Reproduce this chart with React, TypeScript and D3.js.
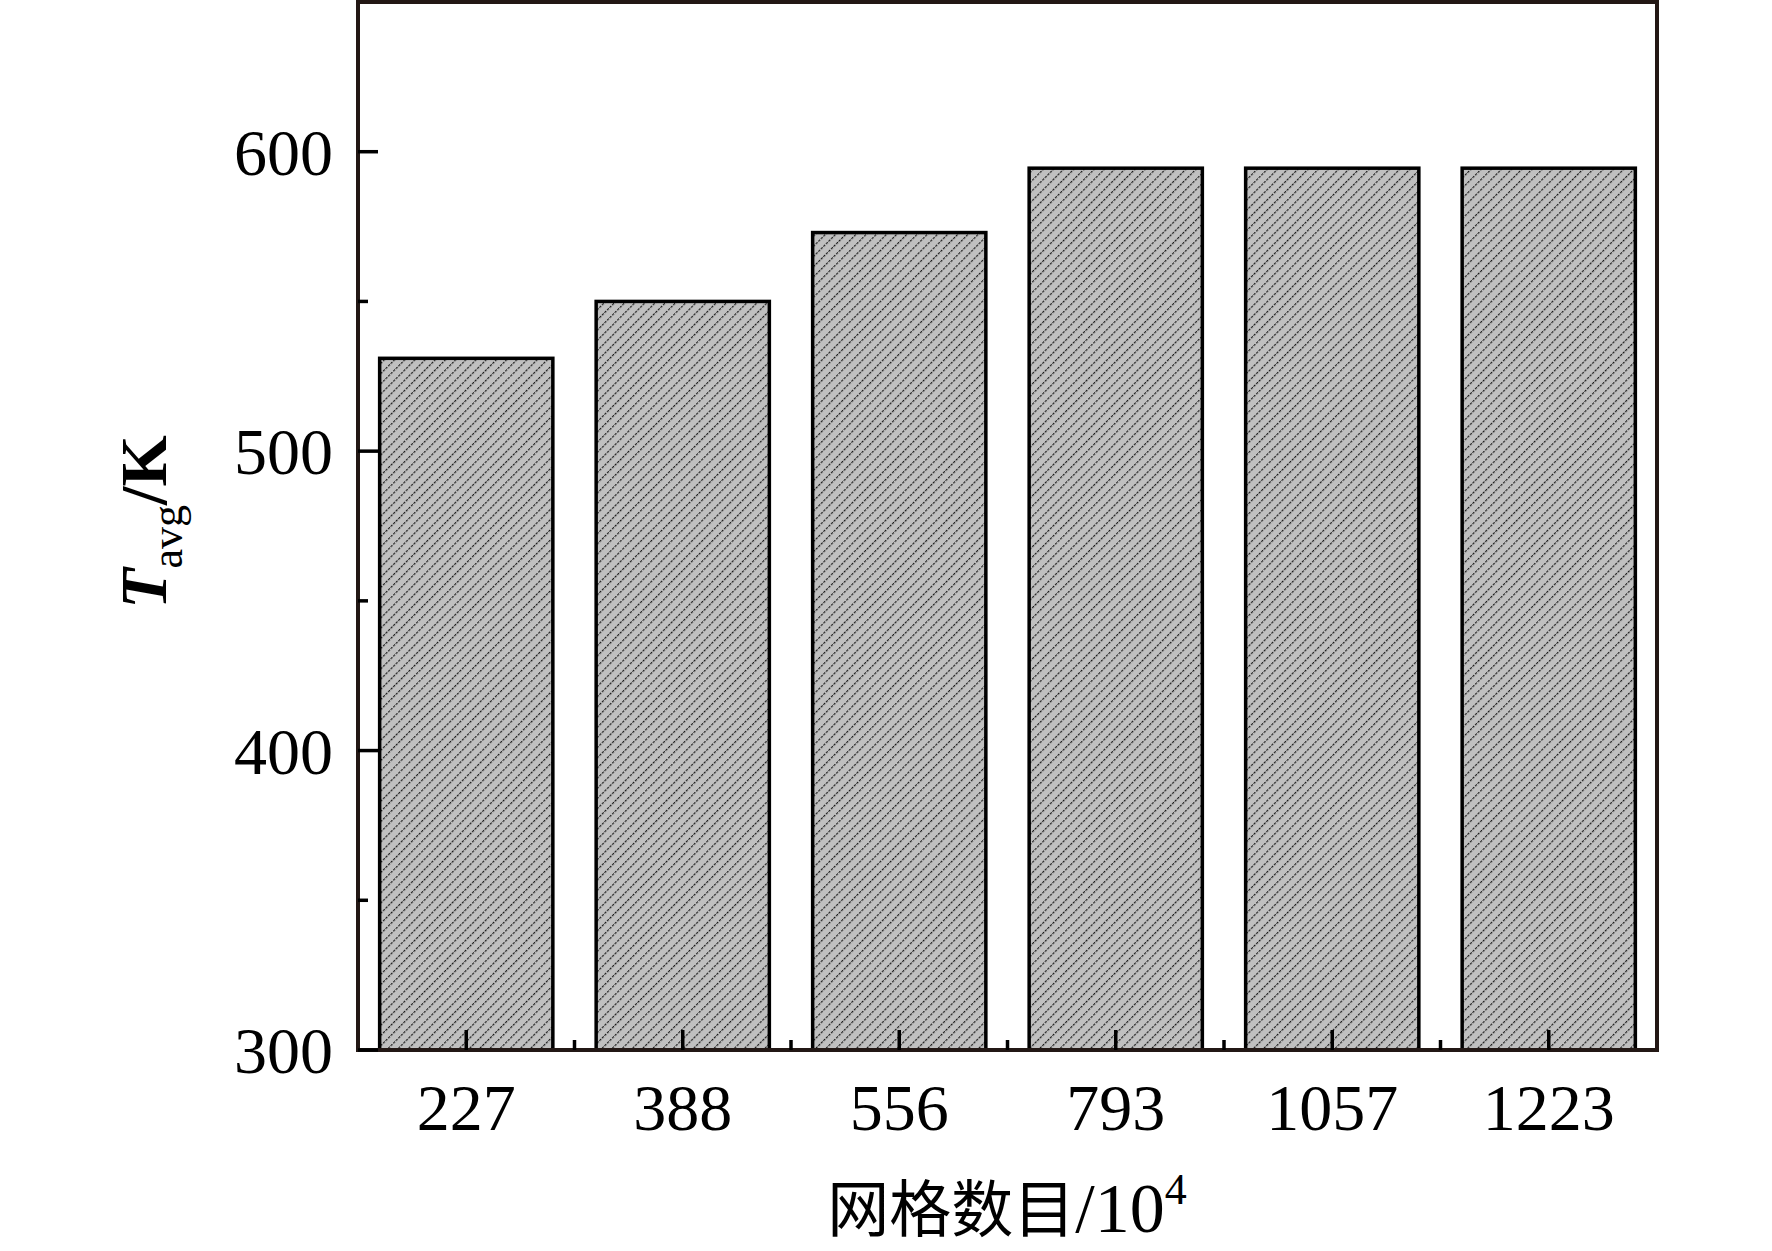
import { useMemo } from 'react';
import * as d3 from 'd3';

// grid counts (x10^4) and average temperature (K)
const gridCounts = ['227', '388', '556', '793', '1057', '1223'];
const tAvg = [531, 550, 573, 594.5, 594.5, 594.5];
const yMajorTicks = [300, 400, 500, 600];
const yMinorTicks = [350, 450, 550];

const W = 1772;
const H = 1251;
const plot = { left: 358, right: 1657, top: 2, bottom: 1050 };
const serif = '"Liberation Serif", "Times New Roman", serif';
const cjk = '"Noto Sans CJK SC", sans-serif';
const axisColor = '#231815';

const App = () => {
    const x = useMemo(
        () =>
            d3
                .scaleBand()
                .domain(gridCounts)
                .range([plot.left, plot.right])
                .paddingInner(0.2)
                .paddingOuter(0.1),
        []
    );
    const y = useMemo(
        () => d3.scaleLinear().domain([300, 650]).range([plot.bottom, plot.top]),
        []
    );
    const step = x.step();
    const minorX = gridCounts.slice(1).map(c => (x(c) ?? 0) - (step * 0.2) / 2);

    return (
        <svg
            width={W}
            height={H}
            style={{ position: 'absolute', left: 0, top: 0, background: '#fff' }}
        >
            <defs>
                <pattern
                    id="hatch"
                    patternUnits="userSpaceOnUse"
                    width={7.2}
                    height={7.2}
                    patternTransform="rotate(45)"
                >
                    <rect width={7.2} height={7.2} fill="#c0c0c0" />
                    <line x1={0.6} y1={0} x2={0.6} y2={7.2} stroke="#111" strokeWidth={1.1} strokeDasharray="2.4 1.2" />
                </pattern>
            </defs>

            {/* bars */}
            {gridCounts.map((c, i) => (
                <rect
                    key={c}
                    x={x(c)}
                    y={y(tAvg[i])}
                    width={x.bandwidth()}
                    height={plot.bottom - y(tAvg[i])}
                    fill="url(#hatch)"
                    stroke="#000"
                    strokeWidth={3.5}
                />
            ))}

            {/* frame */}
            <rect
                x={plot.left}
                y={plot.top}
                width={plot.right - plot.left}
                height={plot.bottom - plot.top}
                fill="none"
                stroke={axisColor}
                strokeWidth={4}
            />

            {/* x ticks */}
            {gridCounts.map(c => {
                const cx = (x(c) ?? 0) + x.bandwidth() / 2;
                return (
                    <g key={c}>
                        <line x1={cx} x2={cx} y1={plot.bottom} y2={plot.bottom - 20} stroke="#000" strokeWidth={3.5} />
                        <text
                            x={cx}
                            y={1130}
                            textAnchor="middle"
                            fontFamily={serif}
                            fontSize={66}
                            fill="#000"
                        >
                            {c}
                        </text>
                    </g>
                );
            })}
            {minorX.map((mx, i) => (
                <line key={i} x1={mx} x2={mx} y1={plot.bottom} y2={plot.bottom - 10} stroke="#000" strokeWidth={3.5} />
            ))}

            {/* y ticks */}
            {yMajorTicks.map(t => (
                <g key={t}>
                    <line x1={plot.left} x2={plot.left + 20} y1={y(t)} y2={y(t)} stroke="#000" strokeWidth={3.5} />
                    <text
                        x={plot.left - 25}
                        y={y(t)}
                        dy="0.35em"
                        textAnchor="end"
                        fontFamily={serif}
                        fontSize={66}
                        fill="#000"
                    >
                        {t}
                    </text>
                </g>
            ))}
            {yMinorTicks.map(t => (
                <line key={t} x1={plot.left} x2={plot.left + 10} y1={y(t)} y2={y(t)} stroke="#000" strokeWidth={3.5} />
            ))}

            {/* y title */}
            <text
                transform="translate(166,522) rotate(-90)"
                textAnchor="middle"
                fontFamily={serif}
                fontSize={66}
                fill="#000"
            >
                <tspan fontStyle="italic" fontWeight="bold">T</tspan>
                <tspan fontSize={44} dy={16}>avg</tspan>
                <tspan dy={-16} fontWeight="bold">/K</tspan>
            </text>

            {/* x title */}
            <text x={1007} y={1232} textAnchor="middle" fill="#000">
                <tspan fontFamily={cjk} fontSize={62}>网格数目</tspan>
                <tspan fontFamily={serif} fontSize={70}>/10</tspan>
                <tspan fontFamily={serif} fontSize={44} dy={-28}>4</tspan>
            </text>
        </svg>
    );
};

export default App;
